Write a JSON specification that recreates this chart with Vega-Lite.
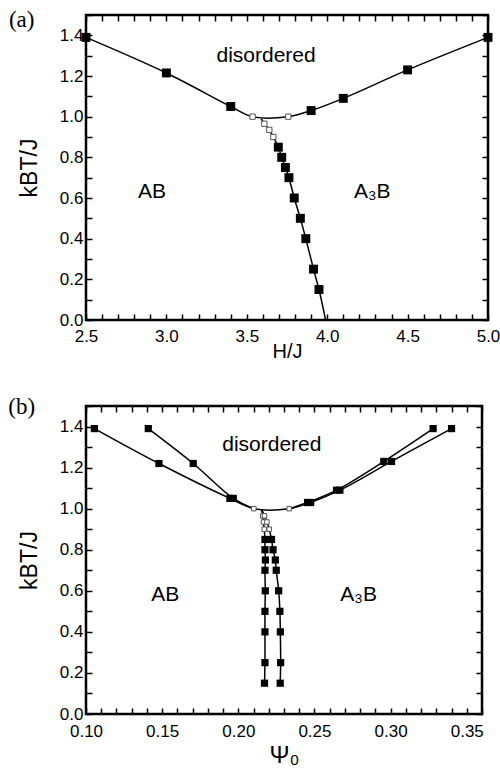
{
  "$schema": "https://vega.github.io/schema/vega-lite/v6.json",
  "padding": {"left": 7, "top": 4, "right": 5, "bottom": 0},
  "spacing": 31,
  "config": {
    "view": {"stroke": "black", "strokeWidth": 2.5},
    "font": "Liberation Sans",
    "axis": {"domain": false, "grid": false, "ticks": true, "tickSize": 6, "offset": -6, "tickCount": 100, "tickColor": "black", "tickWidth": 1.5, "tickOpacity": 1, "labelColor": "black", "labelFont": "Liberation Sans", "labelFontSize": 17, "titleFont": "Liberation Sans", "titleFontSize": 20, "titleFontWeight": "normal", "titleColor": "black", "labelOverlap": false, "labelBound": false, "labelFlush": false}
  },
  "datasets": {
    "a_lines": [
      {"s": "up", "o": 0, "x": 2.5, "y": 1.39, "m": "filled"},
      {"s": "up", "o": 1, "x": 3.0, "y": 1.215, "m": "filled"},
      {"s": "up", "o": 2, "x": 3.4, "y": 1.05, "m": "filled"},
      {"s": "up", "o": 3, "x": 3.536, "y": 1.0, "m": "open"},
      {"s": "up", "o": 4, "x": 3.758, "y": 1.0, "m": "open"},
      {"s": "up", "o": 5, "x": 3.9, "y": 1.03, "m": "filled"},
      {"s": "up", "o": 6, "x": 4.1, "y": 1.09, "m": "filled"},
      {"s": "up", "o": 7, "x": 4.5, "y": 1.23, "m": "filled"},
      {"s": "up", "o": 8, "x": 5.0, "y": 1.39, "m": "filled"},
      {"s": "low", "o": 0, "x": 3.59, "y": 0.99, "m": "none"},
      {"s": "low", "o": 1, "x": 3.609, "y": 0.965, "m": "open"},
      {"s": "low", "o": 2, "x": 3.64, "y": 0.935, "m": "open"},
      {"s": "low", "o": 3, "x": 3.665, "y": 0.9, "m": "open"},
      {"s": "low", "o": 4, "x": 3.696, "y": 0.85, "m": "filled"},
      {"s": "low", "o": 5, "x": 3.717, "y": 0.8, "m": "filled"},
      {"s": "low", "o": 6, "x": 3.74, "y": 0.75, "m": "filled"},
      {"s": "low", "o": 7, "x": 3.762, "y": 0.7, "m": "filled"},
      {"s": "low", "o": 8, "x": 3.795, "y": 0.6, "m": "filled"},
      {"s": "low", "o": 9, "x": 3.833, "y": 0.5, "m": "filled"},
      {"s": "low", "o": 10, "x": 3.867, "y": 0.4, "m": "filled"},
      {"s": "low", "o": 11, "x": 3.915, "y": 0.25, "m": "filled"},
      {"s": "low", "o": 12, "x": 3.949, "y": 0.15, "m": "filled"},
      {"s": "low", "o": 13, "x": 3.99, "y": 0.0, "m": "none"}
    ],
    "a_labels": [
      {"label": "disordered", "x": 3.62, "y": 1.3},
      {"label": "AB", "x": 2.91, "y": 0.63},
      {"label": "A₃B", "x": 4.28, "y": 0.63}
    ],
    "a_tag": [{"label": "(a)", "x": 2.1, "y": 1.475}],
    "b_lines": [
      {"s": "b1", "o": 0, "x": 0.1055, "y": 1.39, "m": "filled"},
      {"s": "b1", "o": 1, "x": 0.1479, "y": 1.22, "m": "filled"},
      {"s": "b1", "o": 2, "x": 0.1945, "y": 1.05, "m": "filled"},
      {"s": "b1", "o": 3, "x": 0.2102, "y": 1.0, "m": "open"},
      {"s": "b1", "o": 4, "x": 0.2334, "y": 1.0, "m": "open"},
      {"s": "b1", "o": 5, "x": 0.2475, "y": 1.03, "m": "filled"},
      {"s": "b1", "o": 6, "x": 0.2667, "y": 1.09, "m": "filled"},
      {"s": "b1", "o": 7, "x": 0.3006, "y": 1.23, "m": "filled"},
      {"s": "b1", "o": 8, "x": 0.34, "y": 1.39, "m": "filled"},
      {"s": "b2", "o": 0, "x": 0.1409, "y": 1.39, "m": "filled"},
      {"s": "b2", "o": 1, "x": 0.1704, "y": 1.22, "m": "filled"},
      {"s": "b2", "o": 2, "x": 0.1967, "y": 1.05, "m": "filled"},
      {"s": "b2", "o": 3, "x": 0.2102, "y": 1.0, "m": "none"},
      {"s": "b3", "o": 0, "x": 0.2334, "y": 1.0, "m": "none"},
      {"s": "b3", "o": 1, "x": 0.2455, "y": 1.03, "m": "filled"},
      {"s": "b3", "o": 2, "x": 0.2645, "y": 1.09, "m": "filled"},
      {"s": "b3", "o": 3, "x": 0.2955, "y": 1.23, "m": "filled"},
      {"s": "b3", "o": 4, "x": 0.3279, "y": 1.39, "m": "filled"},
      {"s": "bL", "o": 0, "x": 0.2153, "y": 0.997, "m": "none"},
      {"s": "bL", "o": 1, "x": 0.216, "y": 0.965, "m": "open"},
      {"s": "bL", "o": 2, "x": 0.2165, "y": 0.935, "m": "open"},
      {"s": "bL", "o": 3, "x": 0.217, "y": 0.9, "m": "open"},
      {"s": "bL", "o": 4, "x": 0.2175, "y": 0.85, "m": "filled"},
      {"s": "bL", "o": 5, "x": 0.2175, "y": 0.8, "m": "filled"},
      {"s": "bL", "o": 6, "x": 0.2178, "y": 0.75, "m": "filled"},
      {"s": "bL", "o": 7, "x": 0.2175, "y": 0.7, "m": "filled"},
      {"s": "bL", "o": 8, "x": 0.2177, "y": 0.6, "m": "filled"},
      {"s": "bL", "o": 9, "x": 0.2175, "y": 0.5, "m": "filled"},
      {"s": "bL", "o": 10, "x": 0.2175, "y": 0.4, "m": "filled"},
      {"s": "bL", "o": 11, "x": 0.2175, "y": 0.25, "m": "filled"},
      {"s": "bL", "o": 12, "x": 0.2172, "y": 0.15, "m": "filled"},
      {"s": "bR", "o": 0, "x": 0.2153, "y": 0.997, "m": "none"},
      {"s": "bR", "o": 1, "x": 0.2172, "y": 0.965, "m": "open"},
      {"s": "bR", "o": 2, "x": 0.2188, "y": 0.935, "m": "open"},
      {"s": "bR", "o": 3, "x": 0.2203, "y": 0.9, "m": "open"},
      {"s": "bR", "o": 4, "x": 0.2218, "y": 0.85, "m": "filled"},
      {"s": "bR", "o": 5, "x": 0.2228, "y": 0.8, "m": "filled"},
      {"s": "bR", "o": 6, "x": 0.2243, "y": 0.75, "m": "filled"},
      {"s": "bR", "o": 7, "x": 0.2249, "y": 0.7, "m": "filled"},
      {"s": "bR", "o": 8, "x": 0.2265, "y": 0.6, "m": "filled"},
      {"s": "bR", "o": 9, "x": 0.2273, "y": 0.5, "m": "filled"},
      {"s": "bR", "o": 10, "x": 0.2276, "y": 0.4, "m": "filled"},
      {"s": "bR", "o": 11, "x": 0.2278, "y": 0.25, "m": "filled"},
      {"s": "bR", "o": 12, "x": 0.2275, "y": 0.15, "m": "filled"}
    ],
    "b_labels": [
      {"label": "disordered", "x": 0.222, "y": 1.31},
      {"label": "AB", "x": 0.152, "y": 0.58},
      {"label": "A₃B", "x": 0.279, "y": 0.58}
    ],
    "b_tag": [{"label": "(b)", "x": 0.0578, "y": 1.495}]
  },
  "vconcat": [
    {
      "width": 402,
      "height": 305,
      "layer": [
        {
          "layer": [
            {
              "data": {"name": "a_lines"},
              "mark": {"type": "line", "interpolate": "catmull-rom", "color": "black", "strokeWidth": 1.5},
              "encoding": {
                "x": {"field": "x", "type": "quantitative", "scale": {"domain": [2.5, 5.0], "nice": false, "zero": false},
                  "axis": {"title": "H/J", "ticks": true, "tickColor": "black", "tickWidth": 1.5, "tickCount": 100, "tickSize": 6, "offset": -6, "values": [2.5,2.6,2.7,2.8,2.9,3.0,3.1,3.2,3.3,3.4,3.5,3.6,3.7,3.8,3.9,4.0,4.1,4.2,4.3,4.4,4.5,4.6,4.7,4.8,4.9,5.0],
                    "labelExpr": "round(datum.value*10)%5==0 ? format(datum.value,'.1f') : ''",
                    "labelOverlap": false, "labelPadding": 8, "titlePadding": -3}},
                "y": {"field": "y", "type": "quantitative", "scale": {"domain": [0, 1.5], "nice": false, "zero": false},
                  "axis": {"title": "kBT/J", "titleFontSize": 23, "ticks": true, "tickColor": "black", "tickWidth": 1.5, "tickCount": 100, "tickSize": 6, "offset": -6, "values": [0,0.1,0.2,0.3,0.4,0.5,0.6,0.7,0.8,0.9,1.0,1.1,1.2,1.3,1.4,1.5],
                    "labelExpr": "round(datum.value*10)%2==0 && datum.value < 1.45 ? format(datum.value,'.1f') : ''",
                    "labelOverlap": false, "labelPadding": 3, "titlePadding": 18}},
                "detail": {"field": "s"},
                "order": {"field": "o"}
              }
            },
            {
              "data": {"name": "a_lines"},
              "transform": [{"filter": "datum.m == 'filled'"}],
              "mark": {"type": "square", "color": "black", "size": 80, "opacity": 1},
              "encoding": {"x": {"field": "x", "type": "quantitative"}, "y": {"field": "y", "type": "quantitative"}}
            },
            {
              "data": {"name": "a_lines"},
              "transform": [{"filter": "datum.m == 'open'"}],
              "mark": {"type": "square", "filled": true, "fill": "white", "stroke": "#555555", "strokeWidth": 1, "size": 28, "opacity": 1},
              "encoding": {"x": {"field": "x", "type": "quantitative"}, "y": {"field": "y", "type": "quantitative"}}
            },
            {
              "data": {"name": "a_labels"},
              "mark": {"type": "text", "fontSize": 21, "color": "black", "font": "Liberation Sans"},
              "encoding": {"x": {"field": "x", "type": "quantitative"}, "y": {"field": "y", "type": "quantitative"}, "text": {"field": "label"}}
            },
            {
              "data": {"name": "a_tag"},
              "mark": {"type": "text", "fontSize": 23, "color": "black", "font": "Liberation Serif", "clip": false},
              "encoding": {"x": {"field": "x", "type": "quantitative"}, "y": {"field": "y", "type": "quantitative"}, "text": {"field": "label"}}
            }
          ]
        },
        {
          "data": {"name": "a_labels"},
          "mark": {"type": "point", "opacity": 0},
          "encoding": {
            "x": {"field": "x", "type": "quantitative", "scale": {"domain": [2.5, 5.0], "nice": false, "zero": false},
              "axis": {"orient": "top", "title": null, "labels": false, "ticks": true, "tickColor": "black", "tickWidth": 1.5, "tickCount": 100, "tickSize": 6, "offset": -6, "values": [2.5,2.6,2.7,2.8,2.9,3.0,3.1,3.2,3.3,3.4,3.5,3.6,3.7,3.8,3.9,4.0,4.1,4.2,4.3,4.4,4.5,4.6,4.7,4.8,4.9,5.0]}},
            "y": {"field": "y", "type": "quantitative", "scale": {"domain": [0, 1.5], "nice": false, "zero": false},
              "axis": {"orient": "right", "title": null, "labels": false, "ticks": true, "tickColor": "black", "tickWidth": 1.5, "tickCount": 100, "tickSize": 6, "offset": -6, "values": [0,0.1,0.2,0.3,0.4,0.5,0.6,0.7,0.8,0.9,1.0,1.1,1.2,1.3,1.4,1.5]}}
          }
        }
      ],
      "resolve": {"scale": {"x": "independent", "y": "independent"}}
    },
    {
      "width": 396,
      "height": 308,
      "layer": [
        {
          "layer": [
            {
              "data": {"name": "b_lines"},
              "mark": {"type": "line", "interpolate": "catmull-rom", "color": "black", "strokeWidth": 1.5},
              "encoding": {
                "x": {"field": "x", "type": "quantitative", "scale": {"domain": [0.1, 0.36], "nice": false, "zero": false},
                  "axis": {"title": "Ψ₀", "titleFontSize": 24, "ticks": true, "tickColor": "black", "tickWidth": 1.5, "tickCount": 100, "tickSize": 6, "offset": -6, "values": [0.1,0.11,0.12,0.13,0.14,0.15,0.16,0.17,0.18,0.19,0.2,0.21,0.22,0.23,0.24,0.25,0.26,0.27,0.28,0.29,0.3,0.31,0.32,0.33,0.34,0.35,0.36],
                    "labelExpr": "round(datum.value*100)%5==0 ? format(datum.value,'.2f') : ''",
                    "labelOverlap": false, "labelPadding": 9, "titlePadding": 4}},
                "y": {"field": "y", "type": "quantitative", "scale": {"domain": [0, 1.5], "nice": false, "zero": false},
                  "axis": {"title": "kBT/J", "titleFontSize": 23, "ticks": true, "tickColor": "black", "tickWidth": 1.5, "tickCount": 100, "tickSize": 6, "offset": -6, "values": [0,0.1,0.2,0.3,0.4,0.5,0.6,0.7,0.8,0.9,1.0,1.1,1.2,1.3,1.4,1.5],
                    "labelExpr": "round(datum.value*10)%2==0 && datum.value < 1.45 ? format(datum.value,'.1f') : ''",
                    "labelOverlap": false, "labelPadding": 3, "titlePadding": 18}},
                "detail": {"field": "s"},
                "order": {"field": "o"}
              }
            },
            {
              "data": {"name": "b_lines"},
              "transform": [{"filter": "datum.m == 'filled'"}],
              "mark": {"type": "square", "color": "black", "size": 52, "opacity": 1},
              "encoding": {"x": {"field": "x", "type": "quantitative"}, "y": {"field": "y", "type": "quantitative"}}
            },
            {
              "data": {"name": "b_lines"},
              "transform": [{"filter": "datum.m == 'open'"}],
              "mark": {"type": "square", "filled": true, "fill": "white", "stroke": "#555555", "strokeWidth": 1, "size": 20, "opacity": 1},
              "encoding": {"x": {"field": "x", "type": "quantitative"}, "y": {"field": "y", "type": "quantitative"}}
            },
            {
              "data": {"name": "b_labels"},
              "mark": {"type": "text", "fontSize": 21, "color": "black", "font": "Liberation Sans"},
              "encoding": {"x": {"field": "x", "type": "quantitative"}, "y": {"field": "y", "type": "quantitative"}, "text": {"field": "label"}}
            },
            {
              "data": {"name": "b_tag"},
              "mark": {"type": "text", "fontSize": 23, "color": "black", "font": "Liberation Serif", "clip": false},
              "encoding": {"x": {"field": "x", "type": "quantitative"}, "y": {"field": "y", "type": "quantitative"}, "text": {"field": "label"}}
            }
          ]
        },
        {
          "data": {"name": "b_labels"},
          "mark": {"type": "point", "opacity": 0},
          "encoding": {
            "x": {"field": "x", "type": "quantitative", "scale": {"domain": [0.1, 0.36], "nice": false, "zero": false},
              "axis": {"orient": "top", "title": null, "labels": false, "ticks": true, "tickColor": "black", "tickWidth": 1.5, "tickCount": 100, "tickSize": 6, "offset": -6, "values": [0.1,0.11,0.12,0.13,0.14,0.15,0.16,0.17,0.18,0.19,0.2,0.21,0.22,0.23,0.24,0.25,0.26,0.27,0.28,0.29,0.3,0.31,0.32,0.33,0.34,0.35,0.36]}},
            "y": {"field": "y", "type": "quantitative", "scale": {"domain": [0, 1.5], "nice": false, "zero": false},
              "axis": {"orient": "right", "title": null, "labels": false, "ticks": true, "tickColor": "black", "tickWidth": 1.5, "tickCount": 100, "tickSize": 6, "offset": -6, "values": [0,0.1,0.2,0.3,0.4,0.5,0.6,0.7,0.8,0.9,1.0,1.1,1.2,1.3,1.4,1.5]}}
          }
        }
      ],
      "resolve": {"scale": {"x": "independent", "y": "independent"}}
    }
  ]
}
